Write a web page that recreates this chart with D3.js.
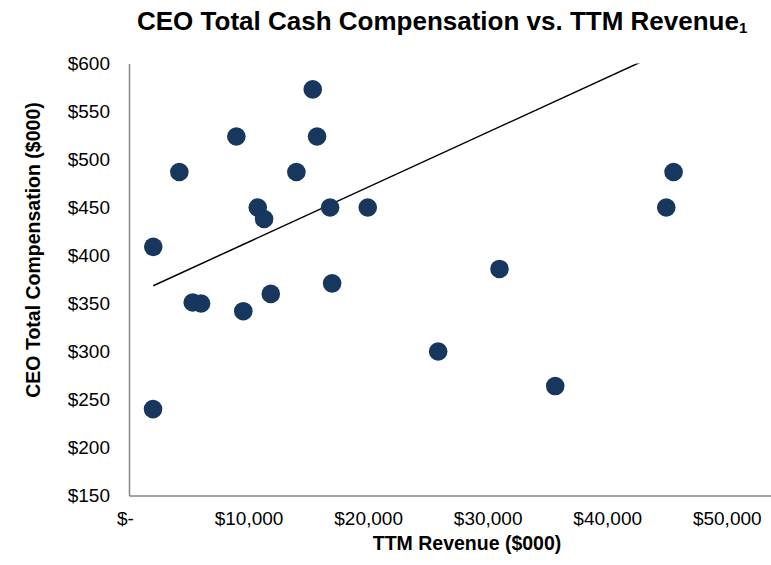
<!DOCTYPE html>
<html>
<head>
<meta charset="utf-8">
<script src="https://cdn.jsdelivr.net/npm/d3@7"></script>
<style>
  body{margin:0;background:#fff;}
  text{font-family:"Liberation Sans",Arial,sans-serif;}
</style>
</head>
<body>
<div id="chart"></div>
<script>
// data ($000)
var revenue = [15370, 8980, 15730, 4210, 14000, 10770, 11300, 16820, 19970, 2030, 5330, 6030, 9560, 11860, 16990, 25860, 45550, 44940, 30990, 35650, 2010];
var compensation = [573, 524, 524, 487, 487, 450, 438, 450, 450, 409, 351, 350, 342, 360, 371, 300, 487, 450, 386, 264, 240];
// trendline end points (clipped at the top of the plot)
var trendRevenue = [2030, 45550];
var trendComp = [368.5, 617.2];
var xTicks = [0, 10000, 20000, 30000, 40000, 50000];
var yTicks = [150, 200, 250, 300, 350, 400, 450, 500, 550, 600];

var svgWidth = 771, svgHeight = 565;
var margin = {top: 63.5, right: 0, bottom: 69.5, left: 129};

var svg = d3.select("#chart").append("svg")
  .attr("width", svgWidth)
  .attr("height", svgHeight);

var x = d3.scaleLinear().domain([0, 53700]).range([margin.left, svgWidth - margin.right]);
var y = d3.scaleLinear().domain([150, 600]).range([svgHeight - margin.bottom, margin.top]);

// clip for the trendline
svg.append("clipPath").attr("id", "plotClip")
  .append("rect")
  .attr("x", margin.left).attr("y", margin.top)
  .attr("width", svgWidth - margin.left - margin.right)
  .attr("height", svgHeight - margin.top - margin.bottom);

// title
var title = svg.append("text")
  .attr("x", 137).attr("y", 29.5)
  .attr("font-size", "26px").attr("font-weight", "bold").attr("fill", "#000")
  .text("CEO Total Cash Compensation vs. TTM Revenue");
title.append("tspan").attr("font-size", "15px").attr("dy", 3).text("1");

// axes
var xAxis = svg.append("g")
  .attr("transform", "translate(0," + y(150) + ")")
  .call(d3.axisBottom(x).tickValues(xTicks).tickSize(0).tickPadding(16)
    .tickFormat(function(d){ return d === 0 ? "$-" : "$" + d3.format(",")(d); }));
var yAxis = svg.append("g")
  .attr("transform", "translate(" + x(0) + ",0)")
  .call(d3.axisLeft(y).tickValues(yTicks).tickSize(0).tickPadding(19)
    .tickFormat(function(d){ return "$" + d; }));

[xAxis, yAxis].forEach(function(g){
  g.select(".domain").attr("stroke", "#868686").attr("stroke-width", 1.5);
  g.selectAll("text").attr("font-size", "19px").attr("fill", "#000")
    .attr("font-family", "Liberation Sans, Arial, sans-serif");
});
xAxis.selectAll(".tick text").filter(function(d){ return d === 0; }).attr("dx", -4);

// axis titles
svg.append("text")
  .attr("x", 467).attr("y", 549.5)
  .attr("text-anchor", "middle")
  .attr("font-size", "19.5px").attr("font-weight", "bold")
  .text("TTM Revenue ($000)");
svg.append("text")
  .attr("transform", "translate(40,250) rotate(-90)")
  .attr("text-anchor", "middle")
  .attr("font-size", "19.5px").attr("font-weight", "bold")
  .text("CEO Total Compensation ($000)");

// trendline
var line = d3.line()
  .x(function(d){ return x(d[0]); })
  .y(function(d){ return y(d[1]); });
svg.append("path")
  .datum(d3.zip(trendRevenue, trendComp))
  .attr("clip-path", "url(#plotClip)")
  .attr("fill", "none").attr("stroke", "#000").attr("stroke-width", 1.5)
  .attr("d", line);

// points
svg.append("g").selectAll("circle")
  .data(d3.zip(revenue, compensation))
  .enter().append("circle")
  .attr("cx", function(d){ return x(d[0]); })
  .attr("cy", function(d){ return y(d[1]); })
  .attr("r", 9.3)
  .attr("fill", "#17375E");
</script>
</body>
</html>
